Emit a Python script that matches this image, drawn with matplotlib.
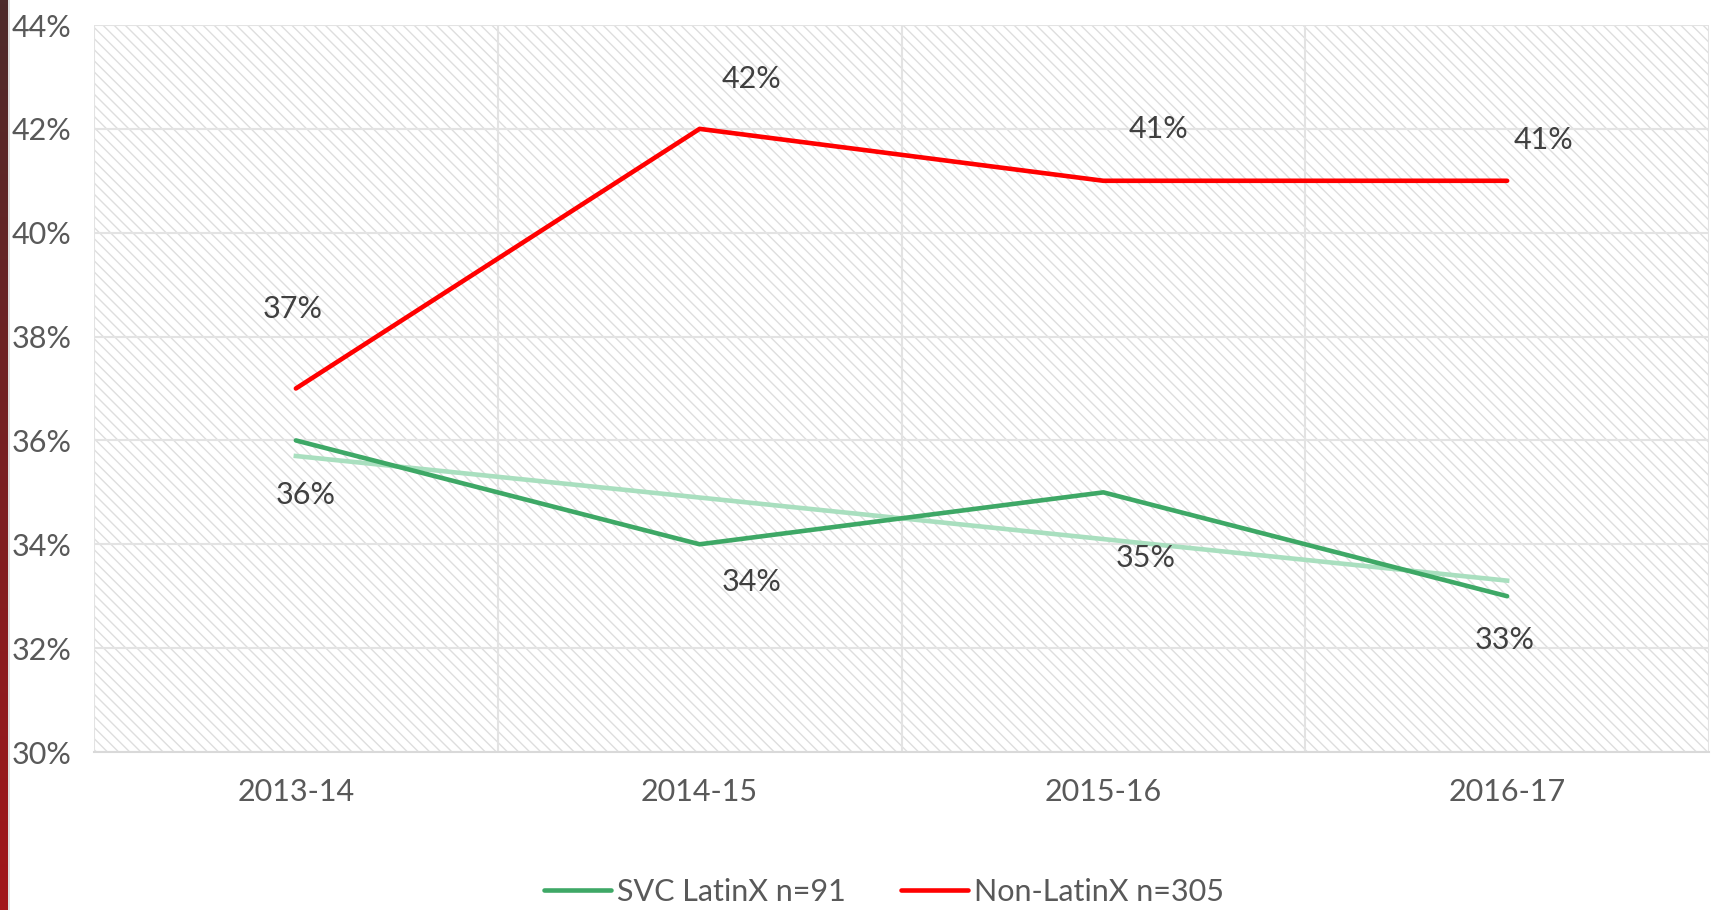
import numpy as np
import matplotlib
matplotlib.use("Agg")
import matplotlib.pyplot as plt
from matplotlib.patches import Rectangle

years = ["2013-14", "2014-15", "2015-16", "2016-17"]
latinx = [36, 34, 35, 33]
non_latinx = [37, 42, 41, 41]
latinx_name = "SVC LatinX n=91"
non_latinx_name = "Non-LatinX n=305"

# label offsets in pixels (dx, dy)
latinx_offsets = [(10, -55), (52, -38), (42, -66), (-2, -44)]
non_latinx_offsets = [(-3, 80), (52, 50), (55, 52), (36, 41)]

plt.rcParams['font.family'] = ['Lato', 'DejaVu Sans']

fig = plt.figure(figsize=(17.12, 9.10), dpi=100)
ax = fig.add_axes([94 / 1712, 1 - 752 / 910, 1615 / 1712, 727 / 910])

# dark red strip on the left edge
strip = fig.add_axes([0, 0, 8 / 1712, 1])
grad = np.linspace(0, 1, 256).reshape(-1, 1)
cmap = matplotlib.colors.LinearSegmentedColormap.from_list("s", ["#4d2b2b", "#a3161a"])
strip.imshow(grad, aspect="auto", cmap=cmap)
strip.axis("off")
fig.add_artist(plt.Line2D([9 / 1712, 9 / 1712], [0, 1], color="#d9d9d9", lw=1.2, transform=fig.transFigure))

x = np.arange(len(years))

ax.add_patch(Rectangle((0, 0), 1, 1, transform=ax.transAxes, facecolor="white",
                       edgecolor="#dedede", hatch="\\\\\\", lw=0, zorder=0))
ax.set_xlim(-0.5, 3.5)
ax.set_ylim(30, 44)
ax.set_yticks(np.arange(30, 45, 2))
ax.set_yticklabels([f"{v}%" for v in range(30, 45, 2)])
ax.set_xticks(x)
ax.set_xticklabels(years)
ax.set_xticks(np.arange(-0.5, 3.6, 0.5), minor=True)
ax.grid(True, axis="y", color="#e3e3e3", lw=1.5, zorder=1)
ax.grid(True, axis="x", which="minor", color="#e3e3e3", lw=1.5, zorder=1)
ax.tick_params(axis="both", which="both", length=0, labelsize=22, colors="#595959")
ax.tick_params(axis="y", pad=16)
ax.tick_params(axis="x", pad=19)
for s in ["top", "right", "left"]:
    ax.spines[s].set_visible(False)
ax.spines["bottom"].set_color("#d9d9d9")
ax.spines["bottom"].set_linewidth(1.5)

ax.plot(x, latinx, color="#3ea866", lw=3.3, label=latinx_name, zorder=3, solid_capstyle="round")
ax.plot(x, non_latinx, color="#ff0000", lw=3.3, label=non_latinx_name, zorder=3, solid_capstyle="round")

slope, icpt = np.polyfit(x, latinx, 1)
ax.plot(x, slope * x + icpt, color="#a9dfbf", lw=3.3, zorder=2)

for xi, v, (dx, dy) in zip(x, latinx, latinx_offsets):
    ax.annotate(f"{v}%", (xi, v), xytext=(dx, dy), textcoords="offset pixels",
                ha="center", va="center", fontsize=22, color="#404040", zorder=4)
for xi, v, (dx, dy) in zip(x, non_latinx, non_latinx_offsets):
    ax.annotate(f"{v}%", (xi, v), xytext=(dx, dy), textcoords="offset pixels",
                ha="center", va="center", fontsize=22, color="#404040", zorder=4)

leg = fig.legend(loc="center", bbox_to_anchor=(884 / 1712, 1 - 892 / 910), ncol=2,
                 frameon=False, fontsize=22, handlelength=2.2, handletextpad=0.2,
                 columnspacing=1.8)
for t in leg.get_texts():
    t.set_color("#595959")

fig.savefig("out.png", dpi=100)
